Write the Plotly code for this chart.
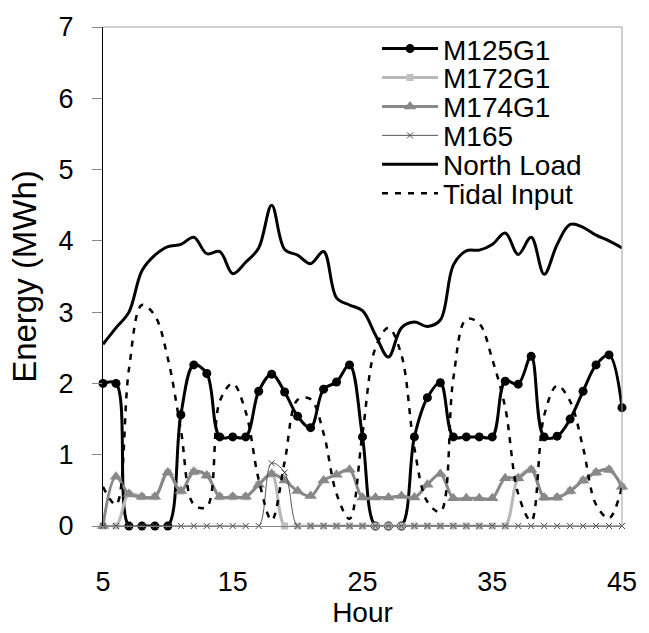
import plotly.graph_objects as go

hours = list(range(5, 46))

m125g1 = [2.0, 2.0, 0, 0, 0, 0, 1.56, 2.26, 2.14, 1.25, 1.25, 1.25, 1.89, 2.13, 1.88, 1.54,
          1.38, 1.92, 2.02, 2.26, 1.25, 0, 0, 0, 1.25, 1.80, 2.01, 1.25, 1.25, 1.25, 1.25,
          2.03, 1.99, 2.38, 1.25, 1.26, 1.50, 1.89, 2.26, 2.40, 1.66]

m172g1 = [0, 0, 0.45, 0.41, 0.41, 0.75, 0.49, 0.76, 0.71, 0.41, 0.41, 0.41, 0.58, 0.73,
          0, 0, 0, 0, 0, 0, 0, 0, 0, 0, 0, 0, 0, 0, 0, 0, 0, 0,
          0.67, 0.79, 0.40, 0.40, 0.49, 0.64, 0.75, 0.79, 0.55]

m174g1 = [0, 0.69, 0.45, 0.41, 0.41, 0.75, 0.49, 0.76, 0.71, 0.41, 0.41, 0.41, 0.58, 0.73,
          0.64, 0.49, 0.42, 0.64, 0.72, 0.79, 0.40, 0.40, 0.40, 0.42, 0.40, 0.58, 0.73,
          0.39, 0.39, 0.39, 0.39, 0.67, 0.67, 0.79, 0.40, 0.40, 0.49, 0.64, 0.75, 0.79, 0.55]

m165 = [0, 0, 0, 0, 0, 0, 0, 0, 0, 0, 0, 0, 0, 0.88, 0.75, 0, 0, 0, 0, 0, 0,
        0, 0, 0, 0, 0, 0, 0, 0, 0, 0, 0, 0, 0, 0, 0, 0, 0, 0, 0, 0]

north_load = [2.55, 2.78, 3.0, 3.58, 3.8, 3.92, 3.95, 4.05, 3.82, 3.85, 3.54, 3.7, 3.9, 4.5,
              3.88, 3.8, 3.68, 3.85, 3.2, 3.1, 3.02, 2.68, 2.37, 2.78, 2.86, 2.8, 2.89, 3.66,
              3.86, 3.87, 3.95, 4.11, 3.81, 4.05, 3.53, 3.95, 4.23, 4.19, 4.08, 4.0, 3.9]

tidal_input = [0.55, 0.3, 2.2, 3.1, 2.95, 2.35, 1.35, 0.3, 0.27, 1.75, 2.0, 1.6, 0.65, 0.08,
               0.9, 1.77, 1.78, 1.3, 0.45, 0.1, 1.3, 2.5, 2.78, 2.4, 1.09, 0.34, 0.2, 2.07,
               2.9, 2.84, 2.34, 1.66, 0.45, 0.07, 1.55, 1.97, 1.75, 1.1, 0.3, 0.11, 0.55]

x_ticks = [5, 15, 25, 35, 45]
y_ticks = [0, 1, 2, 3, 4, 5, 6, 7]

FONT = "Liberation Sans, Arial, sans-serif"

fig = go.Figure()

fig.add_trace(go.Scatter(
    x=hours, y=m125g1, name="M125G1", mode="lines+markers", legend="legend",
    line=dict(color="black", width=3, shape="spline", smoothing=1),
    marker=dict(symbol="circle", size=9, color="black"), cliponaxis=False))

fig.add_trace(go.Scatter(
    x=hours, y=m172g1, name="M172G1", mode="lines+markers", legend="legend2",
    line=dict(color="#b8b8b8", width=3, shape="spline", smoothing=1),
    marker=dict(symbol="square", size=7, color="#c0c0c0"), cliponaxis=False))

fig.add_trace(go.Scatter(
    x=hours, y=m174g1, name="M174G1", mode="lines+markers", legend="legend3",
    line=dict(color="#888888", width=3, shape="spline", smoothing=1),
    marker=dict(symbol="triangle-up", size=11, color="#888888"), cliponaxis=False))

fig.add_trace(go.Scatter(
    x=hours, y=m165, name="M165", mode="lines+markers", legend="legend4",
    line=dict(color="#555555", width=1, shape="spline", smoothing=1),
    marker=dict(symbol="x-thin", size=6, line=dict(color="#444444", width=1)),
    cliponaxis=False))

fig.add_trace(go.Scatter(
    x=hours, y=north_load, name="North Load", mode="lines", legend="legend5",
    line=dict(color="black", width=3, shape="spline", smoothing=1), cliponaxis=False))

fig.add_trace(go.Scatter(
    x=hours, y=tidal_input, name="Tidal Input", mode="lines", legend="legend6",
    line=dict(color="black", width=2.5, shape="spline", smoothing=1, dash="6px,7px"),
    cliponaxis=False))

leg_common = dict(x=0.528, xanchor="left", yanchor="middle", bgcolor="rgba(0,0,0,0)",
                  font=dict(family=FONT, size=28, color="black"), itemwidth=56,
                  borderwidth=0)

layout_legs = {}
for i in range(6):
    key = "legend" if i == 0 else f"legend{i+1}"
    center_px = 41.5 + i * 29.7
    layout_legs[key] = dict(leg_common, y=(531.5 - center_px) / 512.5)

fig.update_layout(
    width=649, height=633,
    margin=dict(l=103, r=17, t=19, b=101, pad=0),
    paper_bgcolor="white", plot_bgcolor="white",
    font=dict(family=FONT, size=27, color="black"),
    showlegend=True,
    **layout_legs,
    xaxis=dict(range=[5, 45], tickvals=x_ticks, ticks="", showgrid=False, zeroline=False,
               showline=True, linecolor="#808080", linewidth=1,
               tickfont=dict(size=27), ticklabelstandoff=32,
               title=dict(text="Hour", font=dict(size=28), standoff=4)),
    yaxis=dict(range=[0, 7], tickvals=y_ticks, ticks="outside", ticklen=10,
               tickcolor="#888888", tickwidth=1, showgrid=False, zeroline=False,
               showline=True, linecolor="black", linewidth=1,
               tickfont=dict(size=27), ticklabelstandoff=13,
               title=dict(text="Energy (MWh)", font=dict(size=33), standoff=12)),
    shapes=[
        dict(type="line", xref="paper", yref="paper", x0=0, x1=1, y0=1, y1=1,
             line=dict(color="#a0a0a0", width=1)),
        dict(type="line", xref="paper", yref="paper", x0=1, x1=1, y0=0, y1=1,
             line=dict(color="#a0a0a0", width=1)),
    ],
)

fig.write_html("out.html")
